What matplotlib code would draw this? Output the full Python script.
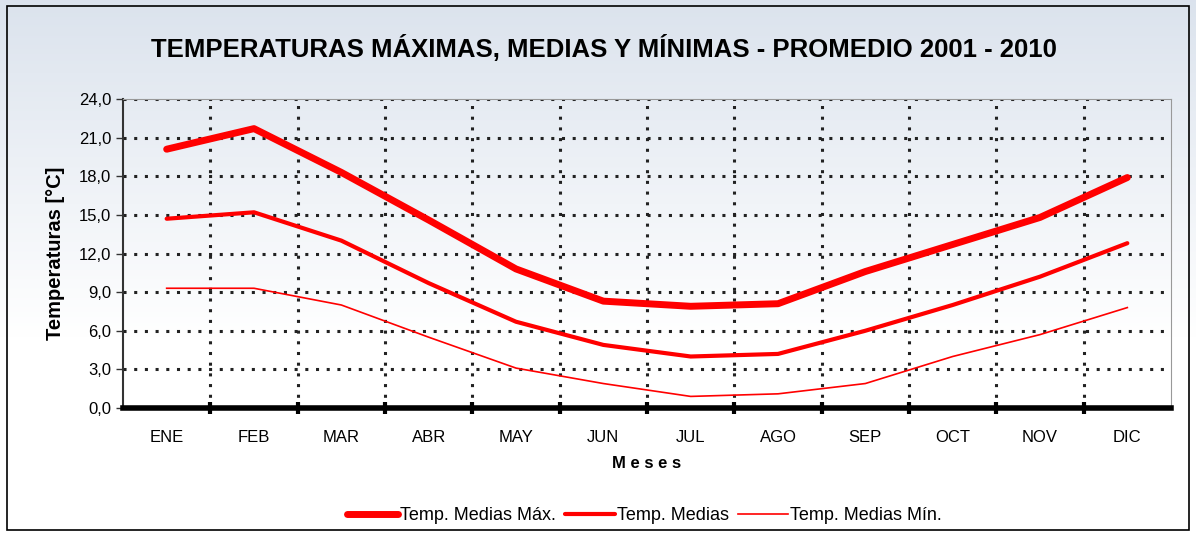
import matplotlib.pyplot as plt
import numpy as np

plt.rcParams['font.family'] = ['Liberation Sans', 'DejaVu Sans']

meses = ['ENE', 'FEB', 'MAR', 'ABR', 'MAY', 'JUN', 'JUL', 'AGO', 'SEP', 'OCT', 'NOV', 'DIC']
temp_max = [20.1, 21.7, 18.3, 14.6, 10.8, 8.3, 7.9, 8.1, 10.6, 12.7, 14.8, 17.9]
temp_med = [14.7, 15.2, 13.0, 9.7, 6.7, 4.9, 4.0, 4.2, 6.0, 8.0, 10.2, 12.8]
temp_min = [9.3, 9.3, 8.0, 5.5, 3.1, 1.9, 0.9, 1.1, 1.9, 4.0, 5.7, 7.8]
y_ticks = [0, 3, 6, 9, 12, 15, 18, 21, 24]

fig = plt.figure(figsize=(11.96, 5.37), dpi=100)

# fondo degradado
bg = fig.add_axes([0, 0, 1, 1], zorder=-10)
grad = np.linspace(0, 1, 256).reshape(-1, 1)
grad = np.clip(grad * 1.6, 0, 1)
top = np.array([0.86, 0.89, 0.93])
bottom = np.array([1.0, 1.0, 1.0])
img = top + (bottom - top) * grad[..., None]
bg.imshow(img, aspect='auto', extent=[0, 1, 0, 1])
bg.set_xlim(0, 1)
bg.set_ylim(0, 1)
bg.axis('off')
bg.add_patch(plt.Rectangle((0.006, 0.013), 0.988, 0.975, fill=False, ec='black', lw=1.2,
                           transform=bg.transAxes))

ax = fig.add_axes([123 / 1196, 1 - 408 / 537, (1171 - 123) / 1196, (408 - 99) / 537])
ax.set_facecolor('none')

x = np.arange(len(meses))
ax.plot(x, temp_max, color='#ff0000', lw=5, solid_capstyle='round', label='Temp. Medias Máx.', zorder=3)
ax.plot(x, temp_med, color='#ff0000', lw=3, solid_capstyle='round', label='Temp. Medias', zorder=3)
ax.plot(x, temp_min, color='#ff0000', lw=1.2, label='Temp. Medias Mín.', zorder=3)

ax.set_xlim(-0.5, len(meses) - 0.5)
ax.set_ylim(0, 24)
ax.set_yticks(y_ticks)
ax.set_yticklabels([f'{v:.1f}'.replace('.', ',') for v in y_ticks], fontsize=12)
ax.set_xticks(x)
ax.set_xticklabels(meses, fontsize=12)
ax.set_xticks(np.arange(0.5, len(meses) - 1, 1), minor=True)
ax.tick_params(axis='x', which='major', length=0, pad=16)
ax.tick_params(axis='x', which='minor', length=8, width=3, direction='inout', color='black')
ax.tick_params(axis='y', length=5, width=1, color='#333333')

ax.grid(axis='y', which='major', color='#222222', ls=(0, (1, 2.5)), lw=2.2)
ax.grid(axis='x', which='minor', color='#222222', ls=(0, (1, 2.5)), lw=2.2)

ax.spines['bottom'].set_linewidth(4)
ax.spines['bottom'].set_color('black')
ax.spines['left'].set_color('#333333')
ax.spines['left'].set_linewidth(1.5)
ax.spines['top'].set_color('#999999')
ax.spines['right'].set_color('#999999')

ax.set_ylabel('Temperaturas [°C]', fontsize=14.5, fontweight='bold', labelpad=10)
ax.set_xlabel('M e s e s', fontsize=12, fontweight='bold', labelpad=8)

fig.text(0.505, 0.91, 'TEMPERATURAS MÁXIMAS, MEDIAS Y MÍNIMAS - PROMEDIO 2001 - 2010',
         ha='center', va='center', fontsize=18.5, fontweight='bold')

fig.legend(loc='center', bbox_to_anchor=(0.539, 0.04), ncol=3, frameon=False, fontsize=13,
           handlelength=2.8, handletextpad=0.1, columnspacing=0.5)

plt.savefig('out.png', dpi=100)
